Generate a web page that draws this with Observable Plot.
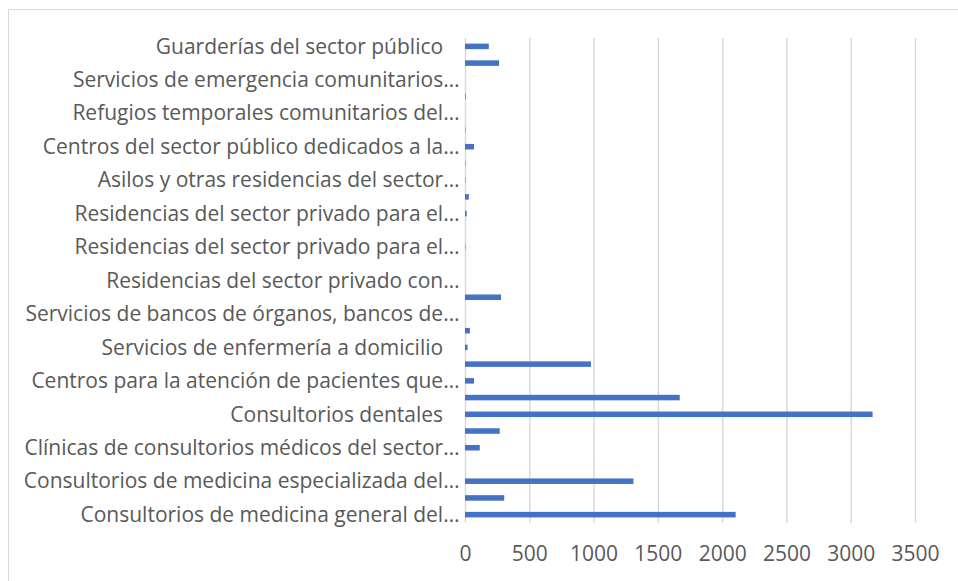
<!DOCTYPE html>
<html>
<head>
<meta charset="utf-8">
<script src="https://cdn.jsdelivr.net/npm/d3@7"></script>
<script src="https://cdn.jsdelivr.net/npm/@observablehq/plot@0.6"></script>
<style>
  html, body { margin: 0; padding: 0; background: #fff; }
  #wrap { position: relative; width: 958px; height: 581px; overflow: hidden; }
  #frame { position: absolute; left: 8px; top: 9px; width: 1000px; height: 700px;
           border-top: 1.5px solid #d9d9d9; border-left: 1.5px solid #d9d9d9; box-sizing: border-box; }
  #chart { position: absolute; left: 0; top: 0; }
</style>
</head>
<body>
<div id="wrap"><div id="frame"></div><div id="chart"></div></div>
<script>
// Categories in Excel order (first = bottom of the chart)
const categories = [
  "Consultorios de medicina general del sector privado",
  "Consultorios de medicina general del sector público",
  "Consultorios de medicina especializada del sector privado",
  "Consultorios de medicina especializada del sector público",
  "Clínicas de consultorios médicos del sector privado",
  "Clínicas de consultorios médicos del sector público",
  "Consultorios dentales",
  "Otros consultorios para el cuidado de la salud",
  "Centros para la atención de pacientes que no requieren hospitalización",
  "Laboratorios médicos y de diagnóstico",
  "Servicios de enfermería a domicilio",
  "Servicios de ambulancias",
  "Servicios de bancos de órganos, bancos de sangre y otros servicios auxiliares",
  "Hospitales del sector privado",
  "Residencias del sector privado con cuidados de enfermeras",
  "Residencias del sector público con cuidados de enfermeras",
  "Residencias del sector privado para el cuidado de personas con retardo mental",
  "Residencias del sector público para el cuidado de personas con retardo mental",
  "Residencias del sector privado para el cuidado de personas con trastorno mental y adicción",
  "Residencias del sector público para el cuidado de personas con trastorno mental y adicción",
  "Asilos y otras residencias del sector privado para el cuidado de ancianos",
  "Asilos y otras residencias del sector público para el cuidado de ancianos",
  "Centros del sector público dedicados a la atención y cuidado diurno de ancianos",
  "Centros del sector privado dedicados a la atención y cuidado diurno de ancianos",
  "Refugios temporales comunitarios del sector privado",
  "Refugios temporales comunitarios del sector público",
  "Servicios de emergencia comunitarios prestados por el sector privado",
  "Guarderías del sector privado",
  "Guarderías del sector público"
];

const values = [2105, 305, 1310, 0, 115, 270, 3170, 1670, 70, 980, 20, 38, 0, 280, 0, 0, 3, 0, 13, 30, 3, 3, 70, 3, 0, 5, 0, 265, 185];

// Labels as displayed on the axis ("" = label hidden); some carry trailing spaces
const tickLabels = [
  "Consultorios de medicina general del…", "",
  "Consultorios de medicina especializada del…", "",
  "Clínicas de consultorios médicos del sector…", "",
  "Consultorios dentales\u00a0\u00a0\u00a0", "",
  "Centros para la atención de pacientes que…", "",
  "Servicios de enfermería a domicilio\u00a0\u00a0\u00a0", "",
  "Servicios de bancos de órganos, bancos de…", "",
  "Residencias del sector privado con…", "",
  "Residencias del sector privado para el…", "",
  "Residencias del sector privado para el…", "",
  "Asilos y otras residencias del sector…", "",
  "Centros del sector público dedicados a la…", "",
  "Refugios temporales comunitarios del…", "",
  "Servicios de emergencia comunitarios…", "",
  "Guarderías del sector público\u00a0\u00a0\u00a0"
];

const xTicks = [0, 500, 1000, 1500, 2000, 2500, 3000, 3500];

const data = categories.map((c, i) => ({category: c, value: values[i]}));
const labelOf = new Map(categories.map((c, i) => [c, tickLabels[i]]));

const FONT = "'Open Sans', sans-serif";

const chart = Plot.plot({
  width: 958,
  height: 581,
  marginLeft: 465,
  marginRight: 43,
  marginTop: 38,
  marginBottom: 58,
  style: {fontFamily: FONT, color: "#595959", background: "transparent"},
  x: {domain: [0, 3500], label: null},
  y: {domain: categories.slice().reverse(), paddingInner: 0.67, paddingOuter: 0.335, round: false, label: null},
  marks: [
    Plot.gridX({ticks: xTicks, stroke: "#d9d9d9", strokeOpacity: 1, strokeWidth: 1.5}),
    Plot.barX(data, {x: "value", y: "category", fill: "#4472C4"}),
    Plot.axisX({ticks: xTicks, tickSize: 0, tickPadding: 23, fontSize: 21, fill: "#595959", label: null,
                tickFormat: d3.format("d")}),
    Plot.axisY({tickSize: 0, tickPadding: 6, fontSize: 21, fill: "#595959", label: null,
                tickFormat: d => labelOf.get(d)})
  ]
});
document.getElementById("chart").appendChild(chart);
</script>
</body>
</html>
